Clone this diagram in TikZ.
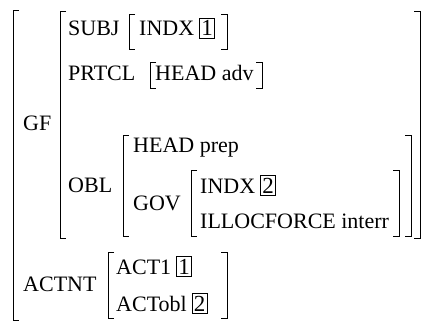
\documentclass[tikz,border=0pt]{standalone}
\usepackage{fontspec}
\setmainfont{Liberation Serif}
\usetikzlibrary{positioning}

\tikzset{
  feat/.style={anchor=base west, inner sep=0pt, font=\fontsize{22}{26}\selectfont},
  tag/.style={draw, line width=0.7pt, inner xsep=1.6pt, inner ysep=2.6pt, font=\fontsize{23}{26}\selectfont},
  brak/.style={line width=0.8pt},
}
% square brackets of the matrices: x, top y, bottom y
\newcommand{\avmopen}[3]{\draw[brak] (#1+6,#2) -- (#1,#2) -- (#1,#3) -- (#1+6,#3);}
\newcommand{\avmclose}[3]{\draw[brak] (#1-6,#2) -- (#1,#2) -- (#1,#3) -- (#1-6,#3);}

\begin{document}
\begin{tikzpicture}[x=1pt,y=-1pt]
  \useasboundingbox (0,0) rectangle (422,323);

  % outer matrix
  \avmopen{13}{10}{320}

  % GF
  \node[feat] (gf) at (23,131) {GF};
  \avmopen{60}{11}{238}
  \avmclose{420}{11}{238}

  \node[feat] (subj) at (68,36) {SUBJ};
  \avmopen{129}{14}{49}
  \node[feat] (subjindx) at (139,36) {INDX};
  \node[tag] (tagone) [right=5pt of subjindx.base east, anchor=base west] {1};
  \avmclose{227}{14}{49}

  \node[feat] (prtcl) at (68,81) {PRTCL};
  \avmopen{150}{62}{88}
  \node[feat] (prtclhead) at (155,81) {HEAD adv};
  \avmclose{262}{62}{88}

  % OBL
  \node[feat] (obl) at (68,192) {OBL};
  \avmopen{123}{135}{236}
  \node[feat] (oblhead) at (133,153) {HEAD prep};
  \node[feat] (gov) at (133,210) {GOV};
  \avmopen{191}{170}{236}
  \node[feat] (govindx) at (200,193) {INDX};
  \node[tag] (tagtwo) [right=5pt of govindx.base east, anchor=base west] {2};
  \node[feat] (illoc) at (200,228) {ILLOCFORCE interr};
  \avmclose{399}{170}{236}
  \avmclose{411}{135}{236}

  % ACTNT
  \node[feat] (actnt) at (23,291) {ACTNT};
  \avmopen{108}{252}{318}
  \node[feat] (actone) at (116,274) {ACT1};
  \node[tag] (actonetag) [right=5pt of actone.base east, anchor=base west] {1};
  \node[feat] (actobl) at (116,311) {ACTobl};
  \node[tag] (actobltag) [right=5pt of actobl.base east, anchor=base west] {2};
  \avmclose{227}{252}{318}
\end{tikzpicture}
\end{document}
